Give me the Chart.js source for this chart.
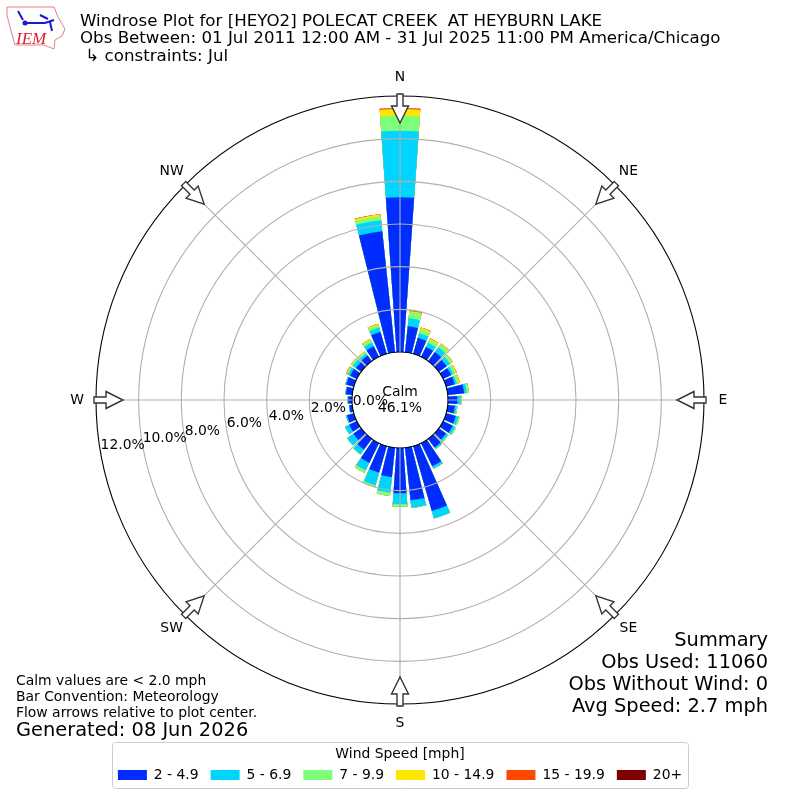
<!DOCTYPE html>
<html>
<head>
<meta charset="utf-8">
<title>Windrose</title>
<script src="https://cdn.jsdelivr.net/npm/chart.js@4/dist/chart.umd.min.js"></script>
<style>
  html, body { margin: 0; padding: 0; background: #fff; }
  canvas { display: block; }
</style>
</head>
<body>
<canvas id="rose" width="800" height="800"></canvas>
<script>
// direction of each bar, clockwise from north (degrees)
const directions = [0, 10, 20, 30, 40, 50, 60, 70, 80, 90, 100, 110, 120, 130, 140, 150, 160, 170,
  180, 190, 200, 210, 220, 230, 240, 250, 260, 270, 280, 290, 300, 310, 320, 330, 340, 350];

const speedLabels = ['2 - 4.9', '5 - 6.9', '7 - 9.9', '10 - 14.9', '15 - 19.9', '20+'];
const speedColors = ['#002cff', '#00d5ff', '#7dff7a', '#ffe600', '#ff4700', '#7f0000'];

// percent of observations per direction, one list per speed class
const speed2to5 = [7.25, 1.23, .78, .52, .53, .45, .42, .42, .77, .44, .33, .47, .5, .42, .5, 1.2, 3.16, 2.48,
  2.12, 1.38, 1.29, 1.03, .62, .45, .4, .33, .14, .18, .3, .37, .35, .3, .33, .55, 1.07, 5.7];
const speed5to7 = [3.12, .37, .22, .22, .28, .2, .12, .1, .12, .15, .09, .13, .12, .1, .08, .12, .36, .35,
  .52, .73, .62, .39, .27, .36, .22, .06, .02, .02, .03, .05, .12, .18, .12, .2, .21, .52];
const speed7to10 = [.71, .3, .19, .15, .17, .12, .12, .1, .09, .05, .04, .06, .06, .04, .02, .01, .01, .01,
  .11, .16, .09, .13, .02, 0, 0, 0, 0, 0, 0, 0, .06, .08, .08, .13, .13, .18];
const speed10to15 = [.31, .05, .09, .07, .05, .04, .04, .06, .02, 0, 0, 0, 0, 0, 0, 0, 0, 0,
  0, 0, 0, 0, 0, 0, 0, 0, 0, 0, 0, 0, .03, .03, .03, .05, .06, .1];
const speed15to20 = [.04, .03, .01, .01, 0, 0, .01, 0, 0, 0, 0, 0, 0, 0, 0, 0, 0, 0,
  0, 0, 0, 0, 0, 0, 0, 0, 0, 0, 0, 0, .01, 0, 0, 0, 0, .01];
const speed20up = [0, 0, 0, 0, 0, 0, 0, 0, 0, 0, 0, 0, 0, 0, 0, 0, 0, 0,
  0, 0, 0, 0, 0, 0, 0, 0, 0, 0, 0, 0, 0, 0, 0, 0, 0, 0];
const speedSeries = [speed2to5, speed5to7, speed7to10, speed10to15, speed15to20, speed20up];

const compass = ['N', 'NE', 'E', 'SE', 'S', 'SW', 'W', 'NW'];
const rTicks = { min: -2.25, max: 12, step: 2 };

const FONT = '"DejaVu Sans"';

const barAngle = 8;

// polarArea has no gaps, so every other slice is an empty one
const sliceAngles = [];
const sliceLabels = [];
directions.forEach(d => {
  sliceAngles.push(barAngle, 10 - barAngle);
  sliceLabels.push(d + '°', '');
});

// stacked values: each class is drawn behind the previous one
const running = directions.map(() => 0);
const datasets = speedSeries.map((values, s) => {
  const data = [];
  values.forEach((v, i) => {
    running[i] += v;
    data.push(running[i], null);
  });
  return {
    label: speedLabels[s],
    data,
    backgroundColor: speedColors[s],
    borderWidth: 0,
    angle: ctx => sliceAngles[ctx.dataIndex]
  };
});

const text = (ctx, str, x, y, size, align = 'left', base = 'middle') => {
  ctx.font = size + 'px ' + FONT;
  ctx.textAlign = align;
  ctx.textBaseline = base;
  ctx.fillStyle = '#000';
  ctx.fillText(str, x, y);
};

const drawLogo = ctx => {
  ctx.save();
  ctx.strokeStyle = '#e57f7f';
  ctx.lineWidth = 1;
  ctx.beginPath();
  [[7, 7], [54, 7], [58, 17], [65, 29], [62, 36], [55, 40], [54, 49], [44, 45], [15, 45], [10, 27], [7, 15]]
    .forEach((p, i) => (i ? ctx.lineTo(p[0], p[1]) : ctx.moveTo(p[0], p[1])));
  ctx.closePath();
  ctx.stroke();
  ctx.strokeStyle = '#1a1ad0';
  ctx.lineWidth = 2;
  ctx.beginPath();
  ctx.moveTo(25, 23);
  ctx.lineTo(45, 23);
  ctx.lineTo(54, 20);
  ctx.moveTo(18, 11);
  ctx.lineTo(23, 20);
  ctx.moveTo(40, 15);
  ctx.lineTo(48, 19);
  ctx.moveTo(50, 22);
  ctx.lineTo(52, 31);
  ctx.stroke();
  ctx.fillStyle = '#1a1ad0';
  ctx.beginPath();
  ctx.arc(25, 23, 2.5, 0, Math.PI * 2);
  ctx.fill();
  ctx.font = 'italic 17px "Liberation Serif"';
  ctx.fillStyle = '#d8232a';
  ctx.textAlign = 'left';
  ctx.textBaseline = 'alphabetic';
  ctx.fillText('IEM', 16, 44);
  ctx.restore();
};

const drawArrow = (ctx, cx, cy, angle) => {
  // arrow points at the plot center, starting on the outer ring
  ctx.save();
  ctx.translate(cx, cy);
  ctx.rotate(angle);
  ctx.beginPath();
  ctx.moveTo(0, -306);
  ctx.lineTo(3, -306);
  ctx.lineTo(3, -294);
  ctx.lineTo(8.5, -294);
  ctx.lineTo(0, -277);
  ctx.lineTo(-8.5, -294);
  ctx.lineTo(-3, -294);
  ctx.lineTo(-3, -306);
  ctx.closePath();
  ctx.fillStyle = '#fff';
  ctx.fill();
  ctx.strokeStyle = '#333';
  ctx.lineWidth = 1.4;
  ctx.stroke();
  ctx.restore();
};

const roseDecor = {
  id: 'roseDecor',
  afterDatasetsDraw(chart) {
    // hole in the middle, the bars start at its edge
    const { ctx } = chart;
    const r = chart.scales.r;
    ctx.save();
    ctx.fillStyle = '#fff';
    ctx.beginPath();
    ctx.arc(r.xCenter, r.yCenter, r.getDistanceFromCenterForValue(0), 0, Math.PI * 2);
    ctx.fill();
    ctx.restore();
  },
  afterDraw(chart) {
    const { ctx } = chart;
    const r = chart.scales.r;
    const cx = r.xCenter;
    const cy = r.yCenter;
    const inner = r.getDistanceFromCenterForValue(0);
    const outer = r.getDistanceFromCenterForValue(rTicks.max);
    ctx.save();

    // spokes
    ctx.strokeStyle = '#b0b0b0';
    ctx.lineWidth = 1.1;
    compass.forEach((name, i) => {
      const a = i * Math.PI / 4;
      ctx.beginPath();
      ctx.moveTo(cx + inner * Math.sin(a), cy - inner * Math.cos(a));
      ctx.lineTo(cx + outer * Math.sin(a), cy - outer * Math.cos(a));
      ctx.stroke();
    });

    // tick labels run along the 190 degree line
    const tickA = 10 * Math.PI / 180;
    r.ticks.forEach(t => {
      if (t.value < 0) return;
      const d = r.getDistanceFromCenterForValue(t.value);
      text(ctx, t.value.toFixed(1) + '%', cx - d * Math.cos(tickA), cy + d * Math.sin(tickA), 13.9, 'left', 'bottom');
    });

    compass.forEach((name, i) => {
      const a = i * Math.PI / 4;
      drawArrow(ctx, cx, cy, a);
      text(ctx, name, cx + 323 * Math.sin(a), cy - 323 * Math.cos(a), 13.9, 'center');
    });

    text(ctx, 'Calm', cx, 392, 13.9, 'center');
    text(ctx, '46.1%', cx, 408, 13.9, 'center');

    drawLogo(ctx);
    text(ctx, 'Windrose Plot for [HEYO2] POLECAT CREEK  AT HEYBURN LAKE', 80, 22, 16.67);
    text(ctx, 'Obs Between: 01 Jul 2011 12:00 AM - 31 Jul 2025 11:00 PM America/Chicago', 80, 39, 16.67);
    text(ctx, ' ↳ constraints: Jul', 80, 57, 16.67);

    text(ctx, 'Summary', 768, 641, 19.4, 'right');
    text(ctx, 'Obs Used: 11060', 768, 663, 19.4, 'right');
    text(ctx, 'Obs Without Wind: 0', 768, 685, 19.4, 'right');
    text(ctx, 'Avg Speed: 2.7 mph', 768, 707, 19.4, 'right');

    text(ctx, 'Calm values are < 2.0 mph', 16, 681, 13.9);
    text(ctx, 'Bar Convention: Meteorology', 16, 697, 13.9);
    text(ctx, 'Flow arrows relative to plot center.', 16, 713, 13.9);
    text(ctx, 'Generated: 08 Jun 2026', 16, 730.5, 19.4);

    // legend frame
    ctx.strokeStyle = '#ccc';
    ctx.lineWidth = 1;
    ctx.beginPath();
    ctx.roundRect(112.5, 742.5, 576, 46, 3);
    ctx.stroke();
    ctx.restore();
  }
};

new Chart(document.getElementById('rose'), {
  type: 'polarArea',
  data: { labels: sliceLabels, datasets },
  plugins: [roseDecor],
  options: {
    responsive: false,
    animation: false,
    layout: { padding: { left: 96, right: 96, top: 63, bottom: 8 } },
    scales: {
      r: {
        min: rTicks.min,
        max: rTicks.max,
        startAngle: -barAngle / 2,
        ticks: { display: false, stepSize: rTicks.step },
        pointLabels: { display: false },
        angleLines: { display: false },
        grid: {
          z: 1,
          circular: true,
          lineWidth: 1.1,
          color: ctx => {
            const v = ctx.tick.value;
            if (v < 0) return 'rgba(0,0,0,0)';
            return v === 0 || v === rTicks.max ? '#000' : '#b0b0b0';
          }
        }
      }
    },
    plugins: {
      tooltip: { enabled: false },
      legend: {
        position: 'bottom',
        title: {
          display: true,
          text: 'Wind Speed [mph]',
          color: '#000',
          padding: { top: 10, bottom: -8 },
          font: { family: FONT, size: 13.9 }
        },
        labels: {
          color: '#000',
          boxWidth: 29,
          boxHeight: 10,
          padding: 12,
          font: { family: FONT, size: 13.9 },
          generateLabels: () => speedLabels.map((label, i) => ({
            text: label,
            fillStyle: speedColors[i],
            strokeStyle: speedColors[i],
            lineWidth: 0,
            datasetIndex: i
          }))
        }
      }
    }
  }
});
</script>
</body>
</html>
